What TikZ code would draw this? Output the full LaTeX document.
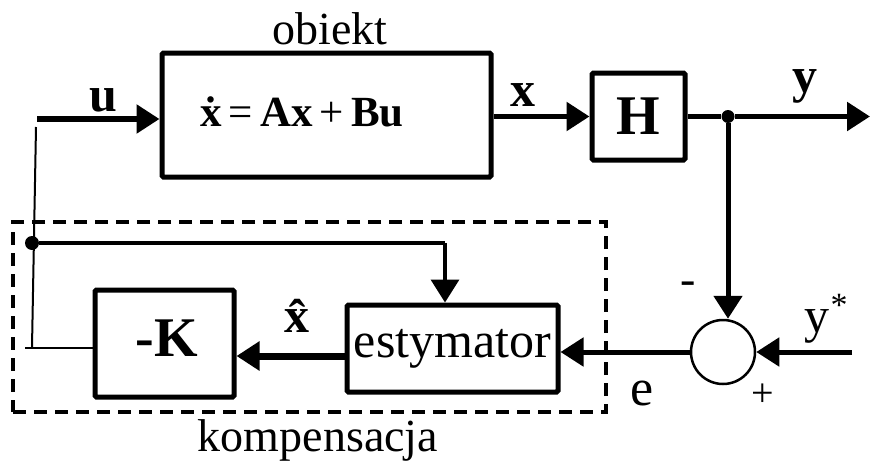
\documentclass[tikz,border=0pt]{standalone}
\usepackage{fontspec}
\setmainfont{Liberation Serif}
\usetikzlibrary{arrows.meta}
\begin{document}
\begin{tikzpicture}[x=1pt,y=-1pt,
  blk/.style={draw,line width=5pt,rounded corners=1.5pt,inner sep=0pt},
  tip/.style={-{Triangle[length=23pt,width=28pt]}},
  arr/.style={line width=5.5pt,tip},
  thinln/.style={line width=2pt},
  midln/.style={line width=3.5pt},
  lbl/.style={inner sep=0pt,font=\fontsize{46}{50}\selectfont},
  blbl/.style={inner sep=0pt,font=\fontsize{50}{54}\selectfont\bfseries},
  dotn/.style={circle,fill,inner sep=0pt,minimum size=14pt}]
\useasboundingbox (0,0) rectangle (870,466);
% blocks
\node[blk,minimum width=329pt,minimum height=124pt] (obj) at (326.5,115) {};
\node[inner sep=0pt,font=\fontsize{43}{46}\selectfont] (eq) at (302,112) {\textbf{\.x}\,=\,\textbf{Ax}\,+\,\textbf{Bu}};
\node[blk,minimum width=93pt,minimum height=87pt,font=\fontsize{56}{60}\selectfont\bfseries] (H) at (638.5,116.5) {H};
\node[blk,minimum width=139pt,minimum height=107pt] (K) at (164.5,343.5) {};
\node[inner sep=0pt,font=\fontsize{56}{60}\selectfont\bfseries] (Kt) at (167,338) {-K};
\node[blk,minimum width=211pt,minimum height=87pt,font=\fontsize{50}{54}\selectfont] (est) at (452.5,348.5) {estymator};
\node[draw,circle,line width=2.5pt,minimum size=64pt,inner sep=0pt] (sum) at (723,352) {};
% dashed compensation box
\node[draw,dashed,line width=4pt,dash pattern=on 13pt off 8pt,minimum width=593pt,minimum height=190pt,inner sep=0pt] (comp) at (309.5,317) {};
% coordinates and dots
\coordinate (uin) at (37,119);
\node[dotn,minimum size=13pt] (yd) at (728,116.5) {};
\coordinate (yout) at (870,116.5);
\coordinate (ystar) at (852,352);
\node[dotn] (fd) at (32,243) {};
\coordinate (fcorner) at (445,243);
\coordinate (ftop) at (36,127);
\coordinate (fbot) at (32,347);
\coordinate (fleft) at (25,348);
% connectors
\draw[arr] (uin) -- (uin -| obj.west);
\draw[arr] (obj.east |- H.west) -- (H.west);
\draw[line width=5pt] (H.east) -- (yd);
\draw[arr] (yd) -- (yout);
\draw[arr,line width=5pt] (yd) -- (sum.north -| yd);
\draw[arr,line width=5pt] (ystar) -- (sum);
\draw[arr,line width=5pt] (sum.west) -- (sum.west -| est.east);
\draw[arr,line width=7pt] ([yshift=-7.5pt]est.west) -- ([yshift=-7.5pt]est.west -| K.east);
\draw[thinln] (fleft) -- (fleft -| K.west);
\draw[thinln] (fbot) -- (ftop);
\draw[midln] (fd) -- (fcorner);
\draw[midln,tip] (fcorner) -- (fcorner |- est.north);
% labels
\node[lbl] (lobj) at (330,29) {obiekt};
\node[blbl] (lu) at (103,100) {u};
\node[blbl] (lx) at (523,95) {x};
\node[blbl] (ly) at (805,86) {y};
\node[blbl] (lxh) at (297,316) {\^x};
\node[lbl] (lminus) at (688,288) {-};
\node[lbl,font=\fontsize{50}{54}\selectfont] (lys) at (817,326) {y};
\node[lbl,font=\fontsize{34}{36}\selectfont] (lstar) at (839,305) {*};
\node[lbl,font=\fontsize{40}{44}\selectfont] (lplus) at (763,395) {+};
\node[lbl,font=\fontsize{52}{56}\selectfont] (le) at (642,393) {e};
\node[lbl] (lcomp) at (318,440) {kompensacja};
\end{tikzpicture}
\end{document}
